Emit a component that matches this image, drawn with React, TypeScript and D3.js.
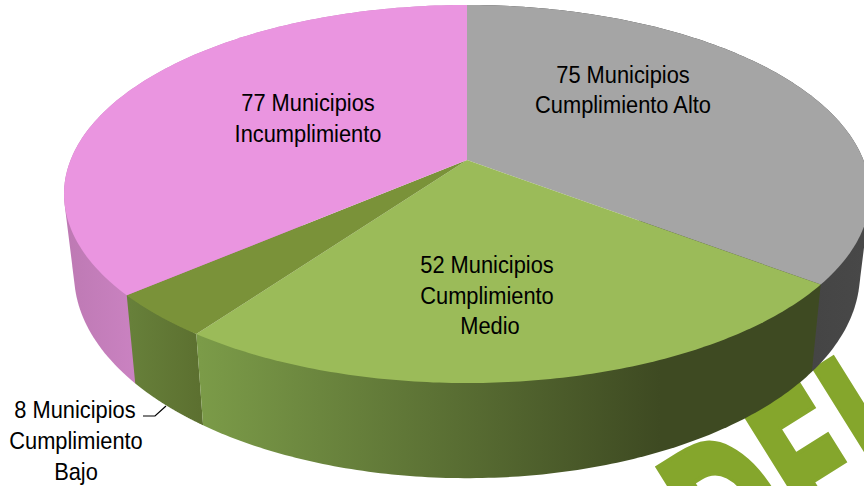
import React from "react";
import * as d3 from "d3";

const categories = ["Cumplimiento Alto", "Cumplimiento Medio", "Cumplimiento Bajo", "Incumplimiento"];
const values = [75, 52, 8, 77];
const topColors = ["#a5a5a5", "#9bbb59", "#7a9239", "#ea95e0"];
const wallStops = [
  ["#3f3f3f", "#484848"],
  ["#7b9b48", "#3e4a22"],
  ["#67803a", "#5c7030"],
  ["#bd79b3", "#ca82c1"],
];
const wallRanges = [[720, 864], [200, 660], [130, 200], [64, 135]];
const wallOrder = [3, 0, 2, 1];

const W = 864, H = 486;
const cx = 467, apexY = 160, cP = 0.18, aP = -154.1, dP = 396.4;
const sx = 0.975, sy = 1.08, ey = 194, by = 274;

const slices = d3.pie<number>().sort(null).startAngle(0).endAngle(2 * Math.PI)(values);

function topPt(t: number): [number, number] {
  const u = Math.sin(t), v = Math.cos(t), q = 1 + cP * v;
  return [cx + (dP * u) / q, (aP * v + apexY) / q];
}
function botPt(t: number): [number, number] {
  const [x, y] = topPt(t);
  return [cx + (x - cx) * sx, by + (y - ey) * sy];
}
const line = d3.line();

function arcAngles(a: number, b: number) {
  return d3.range(0, 121).map((i) => a + ((b - a) * i) / 120);
}
function facePath(a: number, b: number) {
  const pts = arcAngles(a, b).map(topPt);
  return line([[cx, apexY], ...pts]) + "Z";
}
// the wall is the sweep of every vertical edge, so its outline is the hull of top and bottom rims
function wallPath(a: number, b: number) {
  const ang = arcAngles(a, b);
  const hull = d3.polygonHull([...ang.map(topPt), ...ang.map(botPt)]) as [number, number][];
  return line(hull) + "Z";
}

const labelLines = [
  { x: 623, y: 83, t: "75 Municipios" },
  { x: 623, y: 113, t: "Cumplimiento Alto" },
  { x: 308, y: 111, t: "77 Municipios" },
  { x: 308, y: 142, t: "Incumplimiento" },
  { x: 487, y: 273, t: "52 Municipios" },
  { x: 487, y: 304, t: "Cumplimiento" },
  { x: 490, y: 334, t: "Medio" },
  { x: 75, y: 418, t: "8 Municipios" },
  { x: 76, y: 449, t: "Cumplimiento" },
  { x: 76, y: 480, t: "Bajo" },
];

export default function App() {
  return (
    <svg
      width={W}
      height={H}
      viewBox={`0 0 ${W} ${H}`}
      style={{ position: "fixed", left: 0, top: 0, background: "#fff" }}
    >
      <defs>
        {wallStops.map((s, i) => (
          <linearGradient
            key={i}
            id={`w${i}`}
            gradientUnits="userSpaceOnUse"
            x1={wallRanges[i][0]}
            x2={wallRanges[i][1]}
            y1={0}
            y2={0}
          >
            <stop offset="0" stopColor={s[0]} />
            <stop offset="1" stopColor={s[1]} />
          </linearGradient>
        ))}
      </defs>
      <text
        transform="translate(734,613) rotate(-32) scale(0.56,1)"
        fontFamily="DejaVu Sans"
        fontWeight="700"
        fontSize="225"
        letterSpacing="-5"
        fill="#85a62c"
        stroke="#85a62c"
        strokeWidth="4"
      >
        DEI
      </text>
      {wallOrder.map((i) => (
        <path key={`w${i}`} d={wallPath(slices[i].startAngle, slices[i].endAngle)} fill={`url(#w${i})`} />
      ))}
      {slices.map((d, i) => (
        <path key={categories[i]} d={facePath(d.startAngle, d.endAngle)} fill={topColors[i]} />
      ))}
      <path d="M143,416H155L166,406" fill="none" stroke="#000" strokeWidth={1.2} />
      {labelLines.map((l) => (
        <text
          key={l.t + l.x}
          transform={`translate(${l.x},${l.y}) scale(0.91,1)`}
          textAnchor="middle"
          fontFamily="Liberation Sans"
          fontSize={24}
          fill="#000"
        >
          {l.t}
        </text>
      ))}
    </svg>
  );
}
